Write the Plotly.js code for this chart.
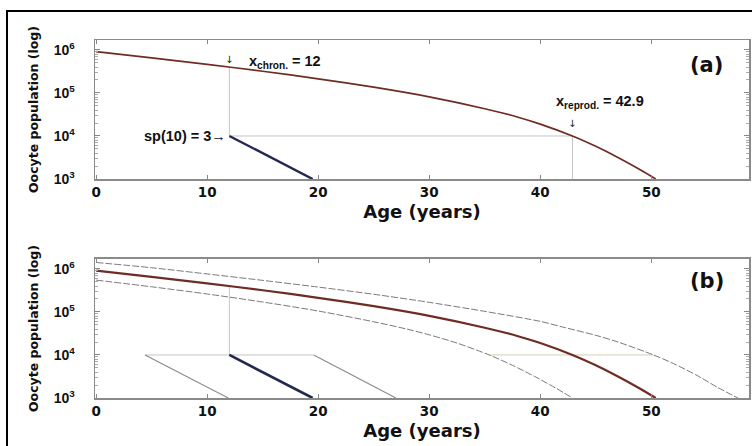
<!DOCTYPE html>
<html>
<head>
<meta charset="utf-8">
<script src="https://cdn.plot.ly/plotly-3.0.1.min.js"></script>
<style>html,body{margin:0;padding:0;background:#fff;}#chart{width:752px;height:446px;}</style>
</head>
<body>
<div id="chart"></div>
<script>
// ---- data ----
const ageMain = [0, 5, 10, 15, 20, 25, 30, 35, 38, 40, 42.9, 45, 47, 49, 50.4];
const popMain = [910000, 652000, 461000, 319000, 213000, 136000, 81100, 43000, 27300, 18900, 10000, 5750, 3160, 1640, 1000];

const ageUpper = [0, 5, 10, 15, 20, 25, 30, 35, 40, 42, 45, 47, 50.2, 52, 54, 56, 57.8];
const popUpper = [1410000, 1064000, 762000, 541000, 378000, 257000, 167000, 103000, 60300, 44700, 28600, 20000, 10000, 6310, 3470, 1750, 1000];

const ageLower = [0, 5, 10, 15, 20, 25, 28, 30, 32.5, 35.4, 37.5, 39.5, 41.5, 42.9];
const popLower = [548000, 384000, 261000, 170000, 105000, 59100, 39800, 29400, 18900, 10000, 5750, 3160, 1640, 1000];

// decline after the chronological cut (sp(10) = 3)
const ageSpA = [12, 19.5];
const popSpA = [10000, 1000];
const ageSpLeft = [4.4, 11.9];
const popSpLeft = [10000, 1000];
const ageSpRight = [19.6, 27.0];
const popSpRight = [10000, 1000];

// guide lines
const xChron = 12;
const xReprod = 42.9;
const popChron = 398000;
const popThreshold = 10000;
const popFloor = 1000;
const bandLeft = [4.4, 19.6];
const bandRight = [35.4, 50.2];

const tickVals = [1000, 10000, 100000, 1000000];
const tickText = ['10<sup>3</sup>', '10<sup>4</sup>', '10<sup>5</sup>', '10<sup>6</sup>'];
const xTickVals = [0, 10, 20, 30, 40, 50];

// ---- styles ----
const mainCol = '#6e2c25';
const navy = '#23284f';
const guide = '#c4c4c4';
const dashCol = '#7a7a7a';

function tr(x, y, ax, col, w, dash) {
  return {x: x, y: y, xaxis: ax[0], yaxis: ax[1], mode: 'lines', type: 'scatter',
    line: {color: col, width: w, dash: dash || 'solid'}, hoverinfo: 'skip', showlegend: false};
}
const A = ['x', 'y'], B = ['x2', 'y2'];

const traces = [
  // panel (a)
  tr([xChron, xChron], [popThreshold, popChron], A, guide, 1),
  tr([xChron, xReprod], [popThreshold, popThreshold], A, guide, 1),
  tr([xReprod, xReprod], [popFloor, popThreshold], A, guide, 1),
  tr(ageMain, popMain, A, mainCol, 1.7),
  tr(ageSpA, popSpA, A, navy, 2.4),
  // panel (b)
  tr([xChron, xChron], [popThreshold, popChron], B, guide, 1),
  tr(bandLeft, [popThreshold, popThreshold], B, guide, 1),
  tr(bandRight, [popThreshold, popThreshold], B, '#d6cfae', 1),
  tr(ageUpper, popUpper, B, dashCol, 1, '7px,2px'),
  tr(ageLower, popLower, B, dashCol, 1, '7px,2px'),
  tr(ageMain, popMain, B, mainCol, 2.2),
  tr(ageSpLeft, popSpLeft, B, '#8a8a8a', 1.1),
  tr(ageSpA, popSpA, B, navy, 2.6),
  tr(ageSpRight, popSpRight, B, '#8a8a8a', 1.1)
];
traces.forEach(t => { t.line.shape = 'spline'; t.line.smoothing = 0.8; });

const yTickFont = {family: 'Liberation Sans, Arial, sans-serif', size: 14, color: '#111', weight: 'bold'};
const xTickFont = {family: 'DejaVu Sans, sans-serif', size: 13.5, color: '#111', weight: 'bold'};
const titleFontX = {family: 'DejaVu Sans, sans-serif', size: 18, color: '#111', weight: 'bold'};
const titleFontY = {family: 'DejaVu Sans, sans-serif', size: 12.5, color: '#111', weight: 'bold'};

function xaxis(anchor) {
  return {
    anchor: anchor, range: [-0.1, 58.8], tickmode: 'array', tickvals: xTickVals,
    ticktext: xTickVals.map(String),
    ticks: 'inside', ticklen: 4, tickcolor: '#888', showline: true, linecolor: '#8a8a8a', linewidth: 1.5,
    mirror: 'ticks', showgrid: false, zeroline: false, tickfont: xTickFont,
    title: {text: 'Age (years)', font: titleFontX, standoff: 6}
  };
}
function yaxis(domain, anchor) {
  return {
    domain: domain, anchor: anchor, type: 'log', range: [3, 6.23],
    tickmode: 'array', tickvals: tickVals, ticktext: tickText,
    ticks: 'inside', ticklen: 5, tickcolor: '#888', ticklabelstandoff: 16,
    minor: {ticks: 'inside', ticklen: 3, tickcolor: '#aaa', tickvals: [2000,3000,4000,5000,6000,7000,8000,9000,20000,30000,40000,50000,60000,70000,80000,90000,200000,300000,400000,500000,600000,700000,800000,900000,2000000]},
    showline: true, linecolor: '#8a8a8a', linewidth: 1.5, mirror: 'ticks', showgrid: false, zeroline: false,
    tickfont: yTickFont,
    title: {text: 'Oocyte population (log)', font: titleFontY, standoff: 12}
  };
}

const annFont = {family: 'Liberation Sans, Arial, sans-serif', size: 14.5, color: '#111', weight: 'bold'};
const arrowFont = {family: 'DejaVu Sans', size: 10, color: '#222'};
const annotations = [
  {xref: 'x', yref: 'y', x: 13.6, y: 5.72, xanchor: 'left', yanchor: 'middle', showarrow: false,
   text: 'x<sub>chron.</sub> = 12', font: annFont},
  {xref: 'x', yref: 'y', x: xChron, y: 5.77, xanchor: 'center', yanchor: 'middle', showarrow: false,
   text: '↓', font: arrowFont},
  {xref: 'x', yref: 'y', x: 41.2, y: 4.8, xanchor: 'left', yanchor: 'middle', showarrow: false,
   text: 'x<sub>reprod.</sub> = 42.9', font: annFont},
  {xref: 'x', yref: 'y', x: xReprod, y: 4.3, xanchor: 'center', yanchor: 'middle', showarrow: false,
   text: '↓', font: arrowFont},
  {xref: 'x', yref: 'y', x: 11.9, y: 4.0, xanchor: 'right', yanchor: 'middle', showarrow: false,
   text: 'sp(10) = 3→', font: annFont},
  {xref: 'x', yref: 'y', x: 55, y: 5.66, xanchor: 'center', yanchor: 'middle', showarrow: false,
   text: '(a)', font: {family: 'DejaVu Sans, sans-serif', size: 21, color: '#111', weight: 'bold'}},
  {xref: 'x2', yref: 'y2', x: 55, y: 5.72, xanchor: 'center', yanchor: 'middle', showarrow: false,
   text: '(b)', font: {family: 'DejaVu Sans, sans-serif', size: 21, color: '#111', weight: 'bold'}}
];

// outer frame (top and left edges visible)
const px2x = px => (px - 95) / 654;
const py2y = py => (398 - py) / 358;
const shapes = [
  {type: 'line', xref: 'paper', yref: 'paper', x0: px2x(6), x1: px2x(760), y0: py2y(11), y1: py2y(11), line: {color: '#000', width: 2}},
  {type: 'line', xref: 'paper', yref: 'paper', x0: px2x(7), x1: px2x(7), y0: py2y(10), y1: py2y(460), line: {color: '#000', width: 2}}
];

const layout = {
  width: 752, height: 446,
  margin: {l: 95, r: 3, t: 40, b: 48},
  paper_bgcolor: '#fff', plot_bgcolor: '#fff',
  showlegend: false,
  xaxis: xaxis('y'),
  yaxis: yaxis([0.6117, 1], 'x'),
  xaxis2: xaxis('y2'),
  yaxis2: yaxis([0, 0.3883], 'x2'),
  annotations: annotations,
  shapes: shapes
};

Plotly.newPlot('chart', traces, layout, {displayModeBar: false, staticPlot: true});
</script>
</body>
</html>
